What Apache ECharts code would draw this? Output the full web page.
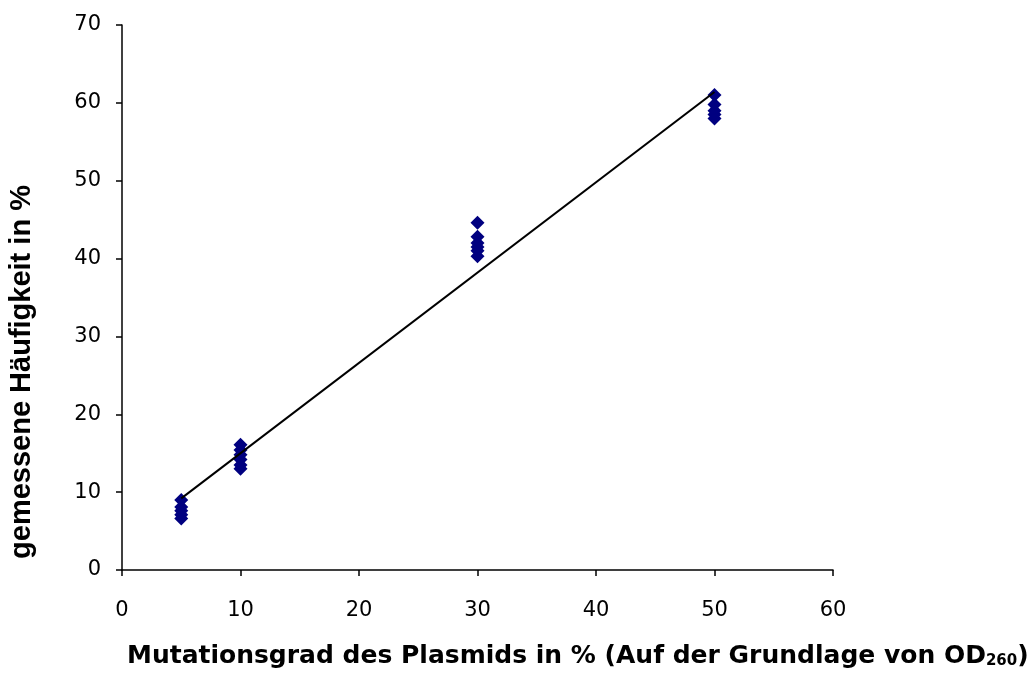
<!DOCTYPE html>
<html><head><meta charset="utf-8">
<script src="https://cdn.jsdelivr.net/npm/echarts@6/dist/echarts.min.js"></script>
<style>html,body{margin:0;padding:0;background:#fff}#c{width:1032px;height:673px}</style>
</head><body><div id="c"></div>
<script>
// Data
const xGroups = [5, 10, 30, 50];
const yValues5 = [9.0, 8.1, 7.6, 7.1, 6.6];
const yValues10 = [16.1, 15.4, 14.8, 14.2, 13.5, 13.0];
const yValues30 = [44.6, 42.8, 42.0, 41.5, 41.0, 40.3];
const yValues50 = [61.0, 59.8, 59.0, 58.5, 58.0];
const trendX = [5, 50];
const trendY = [9.2, 61.4];
const xTicks = [0, 10, 20, 30, 40, 50, 60];
const yTicks = [0, 10, 20, 30, 40, 50, 60, 70];

const groups = [yValues5, yValues10, yValues30, yValues50];
const points = [];
groups.forEach((arr, i) => arr.forEach(v => points.push([xGroups[i], v])));
const trend = trendX.map((x, i) => [x, trendY[i]]);

const tickFont = "'DejaVu Sans', sans-serif";
const chart = echarts.init(document.getElementById('c'), null, {renderer: 'canvas'});
chart.setOption({
  animation: false,
  backgroundColor: '#ffffff',
  grid: {left: 122, right: 199, top: 25, bottom: 103},
  xAxis: {
    type: 'value', min: xTicks[0], max: xTicks[xTicks.length - 1], interval: 10,
    axisLine: {lineStyle: {color: '#000', width: 1.5}},
    axisTick: {show: true, length: 6, lineStyle: {color: '#000', width: 1.5}},
    axisLabel: {color: '#000', fontSize: 21, fontFamily: tickFont, margin: 30},
    splitLine: {show: false}
  },
  yAxis: {
    type: 'value', min: yTicks[0], max: yTicks[yTicks.length - 1], interval: 10,
    axisLine: {show: true, lineStyle: {color: '#000', width: 1.5}},
    axisTick: {show: true, length: 6, lineStyle: {color: '#000', width: 1.5}},
    axisLabel: {color: '#000', fontSize: 21, fontFamily: tickFont, margin: 21},
    splitLine: {show: false}
  },
  series: [
    {
      type: 'line', data: trend, symbol: 'none',
      lineStyle: {color: '#000', width: 2}, z: 3
    },
    {
      type: 'scatter', data: points, symbol: 'diamond', symbolSize: [14, 14],
      itemStyle: {color: '#000080', opacity: 1}, z: 2
    }
  ],
  graphic: [
    {
      type: 'text', left: 127, top: 644,
      style: {
        text: '{b|Mutationsgrad des Plasmids in % (Auf der Grundlage von OD}{s|260}{b|)}',
        rich: {
          b: {fontSize: 25, fontWeight: 'bold', fontFamily: tickFont, fill: '#000', color: '#000'},
          s: {fontSize: 15, fontWeight: 'bold', fontFamily: tickFont, fill: '#000', color: '#000', padding: [9, 0, 0, 0]}
        }
      }
    },
    {
      type: 'text', x: 22, y: 372, rotation: Math.PI / 2,
      style: {
        text: 'gemessene Häufigkeit in %',
        font: "bold 29px 'Liberation Sans', Arial, sans-serif",
        fill: '#000', align: 'center', verticalAlign: 'middle'
      }
    }
  ]
});
</script></body></html>
